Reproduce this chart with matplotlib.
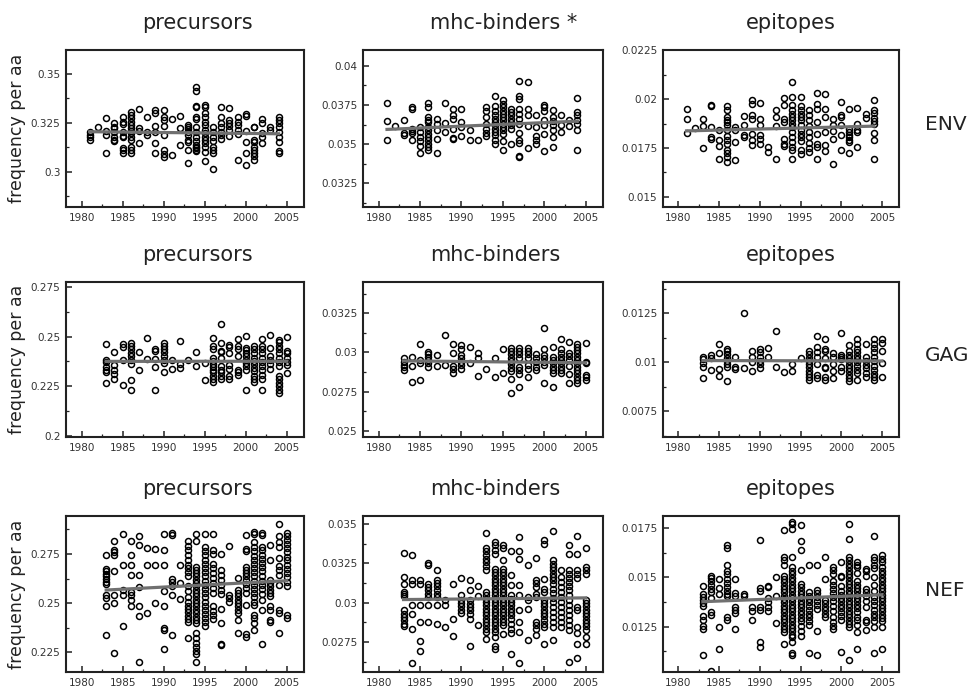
import matplotlib
matplotlib.use("Agg")
import matplotlib.pyplot as plt
import numpy as np
from matplotlib.ticker import MultipleLocator, FuncFormatter

# values, grouped by year
env_prec = {
    1981: [0.3201, 0.3188, 0.3176, 0.3162],
    1982: [0.323],
    1983: [0.3272, 0.3209, 0.3187, 0.3095],
    1984: [0.3247, 0.323, 0.3221, 0.3204, 0.3179, 0.3162, 0.3154],
    1985: [0.3277, 0.3255, 0.3243, 0.3204, 0.3182, 0.3179, 0.312, 0.3108, 0.3095],
    1986: [0.3306, 0.3289, 0.3272, 0.3255, 0.3238, 0.3221, 0.3209, 0.3196, 0.3179, 0.3162, 0.3128, 0.3111, 0.3095],
    1987: [0.3319, 0.3221, 0.3209, 0.3145],
    1988: [0.3277, 0.3204, 0.3187],
    1989: [0.3314, 0.3297, 0.3233, 0.3204, 0.3145, 0.3095],
    1990: [0.3314, 0.328, 0.3264, 0.3233, 0.3187, 0.3111, 0.3091, 0.3074],
    1991: [0.3269, 0.3086],
    1992: [0.3284, 0.3221, 0.3137],
    1993: [0.3238, 0.323, 0.3216, 0.3204, 0.3187, 0.3162, 0.3149, 0.3111, 0.3044],
    1994: [0.3429, 0.3412, 0.3335, 0.3328, 0.3277, 0.3267, 0.323, 0.3204, 0.3179, 0.3154, 0.3137, 0.3128, 0.312, 0.3111, 0.3103],
    1995: [0.334, 0.3331, 0.3301, 0.328, 0.3255, 0.3238, 0.3213, 0.3196, 0.3179, 0.3162, 0.3145, 0.3128, 0.3098, 0.3052],
    1996: [0.323, 0.3204, 0.3179, 0.3154, 0.3128, 0.3108, 0.3095, 0.3013],
    1997: [0.3328, 0.3277, 0.3247, 0.323, 0.3204, 0.3187, 0.3166],
    1998: [0.3323, 0.3264, 0.325, 0.3233, 0.3213, 0.3182],
    1999: [0.3277, 0.3255, 0.3238, 0.3213, 0.3193, 0.3061],
    2000: [0.3294, 0.3285, 0.3209, 0.3149, 0.3095, 0.3032],
    2001: [0.323, 0.3226, 0.3162, 0.3149, 0.3128, 0.3111, 0.3095, 0.3078, 0.3061],
    2002: [0.3267, 0.325, 0.3196, 0.3176, 0.3145],
    2003: [0.323, 0.3213],
    2004: [0.328, 0.3264, 0.3247, 0.323, 0.3204, 0.3179, 0.3149, 0.3103, 0.3095],
}

env_mhc = {
    1981: [0.03763, 0.03647, 0.03525],
    1982: [0.03613],
    1983: [0.03651, 0.03571, 0.03557],
    1984: [0.03735, 0.03725, 0.03599, 0.03584, 0.03571, 0.03525],
    1985: [0.03609, 0.03578, 0.03546, 0.03521, 0.03487, 0.03441],
    1986: [0.0376, 0.03735, 0.03672, 0.03655, 0.03639, 0.03609, 0.03588, 0.03567, 0.03546, 0.03525, 0.03504, 0.03483, 0.03466],
    1987: [0.03662, 0.0363, 0.03592, 0.03536, 0.03441],
    1988: [0.03763, 0.03634, 0.03578],
    1989: [0.03725, 0.03683, 0.03662, 0.03599, 0.03542, 0.03534],
    1990: [0.03725, 0.03641, 0.03609, 0.0355],
    1991: [0.03592, 0.03525],
    1992: [0.03525],
    1993: [0.03735, 0.03714, 0.03672, 0.0363, 0.03599, 0.03571, 0.0355],
    1994: [0.03809, 0.03746, 0.03714, 0.03683, 0.03662, 0.03641, 0.0362, 0.03599, 0.03578, 0.03557, 0.03529, 0.035],
    1995: [0.03781, 0.03758, 0.03735, 0.03714, 0.03693, 0.03672, 0.03651, 0.0363, 0.03609, 0.03588, 0.03567, 0.03521, 0.03462],
    1996: [0.03725, 0.03704, 0.03683, 0.03662, 0.03641, 0.0362, 0.03599, 0.035],
    1997: [0.03903, 0.03809, 0.03788, 0.03725, 0.03693, 0.03662, 0.0363, 0.03571, 0.03529, 0.03508, 0.03424, 0.03416],
    1998: [0.03893, 0.03725, 0.03683, 0.03613, 0.03473],
    1999: [0.03683, 0.03609, 0.0355, 0.03529, 0.035],
    2000: [0.03752, 0.03735, 0.03714, 0.03651, 0.0362, 0.03567, 0.03458],
    2001: [0.03718, 0.03672, 0.03647, 0.0362, 0.03588, 0.03546, 0.03483],
    2002: [0.03683, 0.0362, 0.03578],
    2003: [0.03651, 0.03613],
    2004: [0.03792, 0.03704, 0.03683, 0.03651, 0.0363, 0.03592, 0.03466],
}

env_epi = {
    1981: [0.0195, 0.019, 0.01827],
    1982: [0.01852],
    1983: [0.01897, 0.01861, 0.01752],
    1984: [0.01972, 0.01963, 0.01857, 0.01806, 0.01798],
    1985: [0.0184, 0.01793, 0.01759, 0.01695],
    1986: [0.01963, 0.01943, 0.01909, 0.01895, 0.01883, 0.01866, 0.0184, 0.0181, 0.01793, 0.01772, 0.01738, 0.01724, 0.01704, 0.01678],
    1987: [0.01857, 0.01844, 0.01781, 0.0169],
    1988: [0.01912, 0.01866, 0.01815, 0.01806],
    1989: [0.01994, 0.01977, 0.01917, 0.019, 0.01823, 0.01793, 0.01764],
    1990: [0.0198, 0.019, 0.01866, 0.01815, 0.01798, 0.01769],
    1991: [0.01755, 0.0173],
    1992: [0.01943, 0.01909, 0.01861, 0.01695],
    1993: [0.02006, 0.01968, 0.019, 0.01883, 0.01798, 0.01772, 0.0176],
    1994: [0.02088, 0.02011, 0.01968, 0.01943, 0.01926, 0.01909, 0.01892, 0.01875, 0.01857, 0.01832, 0.01806, 0.01781, 0.01755, 0.01738, 0.01695],
    1995: [0.02011, 0.01963, 0.01943, 0.01926, 0.01909, 0.01892, 0.01866, 0.0184, 0.01823, 0.01806, 0.01786, 0.01741, 0.01721],
    1996: [0.01943, 0.01917, 0.01892, 0.01861, 0.01832, 0.01806, 0.01776, 0.01747, 0.0173],
    1997: [0.02031, 0.01973, 0.0195, 0.01883, 0.01823, 0.01772, 0.01755, 0.01695],
    1998: [0.02028, 0.0195, 0.01909, 0.01832, 0.01764, 0.01735],
    1999: [0.019, 0.01866, 0.01835, 0.01798, 0.0167],
    2000: [0.01985, 0.01917, 0.01909, 0.01866, 0.01815, 0.01738],
    2001: [0.0195, 0.01849, 0.01832, 0.01815, 0.01806, 0.01793, 0.01781, 0.01724],
    2002: [0.01956, 0.01875, 0.0184, 0.01832, 0.01755],
    2003: [0.01922, 0.01905],
    2004: [0.01994, 0.01946, 0.01929, 0.01905, 0.01888, 0.01871, 0.01827, 0.01793, 0.01695],
}

gag_prec = {
    1983: [0.2461, 0.2385, 0.2372, 0.2348, 0.2331, 0.2321, 0.2267],
    1984: [0.2422, 0.2355, 0.2334, 0.2314, 0.2287],
    1985: [0.2461, 0.2449, 0.2385, 0.2258],
    1986: [0.247, 0.2453, 0.2436, 0.2419, 0.2402, 0.2382, 0.236, 0.228, 0.223],
    1987: [0.2422, 0.2334],
    1988: [0.2495, 0.2388],
    1989: [0.2436, 0.2427, 0.2388, 0.2348, 0.223],
    1990: [0.2466, 0.2453, 0.2439, 0.2422, 0.2402, 0.2382, 0.2365, 0.2321],
    1991: [0.2385, 0.2338],
    1992: [0.2478, 0.236, 0.2343],
    1993: [0.2385],
    1994: [0.2422, 0.2351],
    1995: [0.2368, 0.228],
    1996: [0.2495, 0.2453, 0.2439, 0.2394, 0.2377, 0.236, 0.2348, 0.2334, 0.2321, 0.2304, 0.2287, 0.227],
    1997: [0.2563, 0.247, 0.2427, 0.2422, 0.2394, 0.2351, 0.2334, 0.2321, 0.2304, 0.2287],
    1998: [0.2456, 0.2449, 0.2416, 0.2355, 0.2338, 0.2301, 0.2284],
    1999: [0.249, 0.2453, 0.2436, 0.2405, 0.2334, 0.2321, 0.2309],
    2000: [0.2503, 0.2444, 0.2432, 0.2419, 0.2402, 0.2385, 0.2368, 0.2351, 0.2331, 0.223],
    2001: [0.2453, 0.2436, 0.2416, 0.2394, 0.2377, 0.236, 0.2343, 0.2326, 0.2304, 0.2287, 0.227],
    2002: [0.249, 0.2453, 0.2436, 0.2416, 0.2394, 0.2372, 0.2351, 0.2331, 0.2309, 0.2287, 0.223],
    2003: [0.2507, 0.2444, 0.2405, 0.2382, 0.236, 0.2338],
    2004: [0.2486, 0.2473, 0.2453, 0.2436, 0.2416, 0.2394, 0.2372, 0.2351, 0.2304, 0.2284, 0.2267, 0.225, 0.2233, 0.2216],
    2005: [0.25, 0.2427, 0.2416, 0.2394, 0.2372, 0.2355, 0.2318],
}

gag_mhc = {
    1983: [0.02962, 0.02941, 0.02919, 0.02905, 0.02888],
    1984: [0.02968, 0.02913, 0.02813],
    1985: [0.03051, 0.02951, 0.0293, 0.02824],
    1986: [0.03004, 0.02989, 0.02972, 0.02951, 0.0293, 0.02909],
    1987: [0.02983, 0.02913],
    1988: [0.03114, 0.02919],
    1989: [0.03057, 0.02998, 0.02913, 0.02892, 0.02866],
    1990: [0.03047, 0.03019, 0.02983, 0.02962, 0.02941, 0.02919, 0.02892],
    1991: [0.03036, 0.0293],
    1992: [0.02998, 0.02962, 0.0285],
    1993: [0.02892],
    1994: [0.02962, 0.02841],
    1995: [0.03025, 0.02866],
    1996: [0.0303, 0.03008, 0.02987, 0.02966, 0.02945, 0.02924, 0.02902, 0.02881, 0.02828, 0.02739],
    1997: [0.0303, 0.03008, 0.02987, 0.02966, 0.02909, 0.02888, 0.02862, 0.02782],
    1998: [0.0303, 0.03008, 0.02987, 0.02962, 0.02919, 0.02892, 0.02845],
    1999: [0.02987, 0.02966, 0.02941, 0.02909, 0.02888],
    2000: [0.03159, 0.03019, 0.02983, 0.02962, 0.02941, 0.02919, 0.02803],
    2001: [0.03036, 0.02972, 0.02951, 0.0293, 0.02909, 0.02888, 0.02866, 0.02782],
    2002: [0.03089, 0.03025, 0.02994, 0.02972, 0.02951, 0.0293, 0.02909, 0.02888, 0.02866],
    2003: [0.03068, 0.02998, 0.02977, 0.02951, 0.02913, 0.02862, 0.02803],
    2004: [0.03057, 0.03036, 0.03015, 0.02994, 0.02972, 0.02951, 0.0293, 0.02909, 0.02888, 0.02866, 0.02845, 0.02824, 0.02803],
    2005: [0.03061, 0.02941, 0.0293, 0.02856, 0.02841, 0.02824],
}

gag_epi = {
    1983: [0.01029, 0.01017, 0.00995, 0.00978, 0.00921],
    1984: [0.01039, 0.01025, 0.00961],
    1985: [0.01093, 0.01046, 0.00966, 0.00929],
    1986: [0.01068, 0.01056, 0.01042, 0.01025, 0.01005, 0.00992, 0.00978, 0.00904],
    1987: [0.01029, 0.00975, 0.00966],
    1988: [0.0125, 0.00971],
    1989: [0.01059, 0.01029, 0.01, 0.00954],
    1990: [0.01068, 0.01051, 0.01029, 0.01008, 0.00992, 0.00971],
    1991: [0.01076, 0.01029],
    1992: [0.01161, 0.00978],
    1993: [0.00949],
    1994: [0.00992, 0.00954],
    1995: [0.01025],
    1996: [0.01056, 0.01042, 0.01025, 0.01008, 0.00992, 0.00975, 0.00958, 0.00941, 0.00924, 0.0091],
    1997: [0.01135, 0.01079, 0.01051, 0.01029, 0.00992, 0.00937, 0.00921],
    1998: [0.01118, 0.01068, 0.01056, 0.01025, 0.00978, 0.00971, 0.00927, 0.0091],
    1999: [0.01046, 0.01029, 0.00992, 0.00958, 0.00921],
    2000: [0.01152, 0.01039, 0.01029, 0.01017, 0.00975, 0.00954],
    2001: [0.0109, 0.01056, 0.01039, 0.01022, 0.01005, 0.00988, 0.00971, 0.00954, 0.00937, 0.00921, 0.00904],
    2002: [0.01118, 0.01096, 0.01068, 0.01051, 0.01034, 0.01017, 0.01, 0.00983, 0.00961, 0.00944, 0.0091],
    2003: [0.01093, 0.01029, 0.01008, 0.00988, 0.00971, 0.00944, 0.00924],
    2004: [0.01118, 0.01093, 0.01073, 0.01051, 0.01029, 0.01005, 0.00983, 0.00961, 0.00941, 0.00924, 0.0091],
    2005: [0.01118, 0.01101, 0.01056, 0.00995, 0.00924],
}

nef_prec = {
    1983: [0.2746, 0.2673, 0.2661, 0.2649, 0.2636, 0.2622, 0.261, 0.2598, 0.2542, 0.2525, 0.2488, 0.2339],
    1984: [0.2814, 0.2771, 0.2758, 0.2746, 0.2661, 0.2542, 0.25, 0.2246],
    1985: [0.2853, 0.2695, 0.2568, 0.2542, 0.2385],
    1986: [0.2814, 0.2746, 0.2695, 0.2644, 0.2559, 0.2542, 0.2517, 0.2488],
    1987: [0.2842, 0.2797, 0.2644, 0.2581, 0.2488, 0.2436, 0.2203],
    1988: [0.278, 0.2695, 0.2449],
    1989: [0.2775, 0.2695, 0.2503],
    1990: [0.2853, 0.2771, 0.2695, 0.2564, 0.2488, 0.2373, 0.2361, 0.2266],
    1991: [0.2859, 0.2847, 0.2622, 0.2605, 0.2588, 0.2542, 0.2339],
    1992: [0.2695, 0.2602, 0.252],
    1993: [0.2814, 0.2792, 0.2771, 0.2746, 0.272, 0.2695, 0.2678, 0.2656, 0.2639, 0.2588, 0.2564, 0.2531,
           0.2508, 0.2486, 0.2469, 0.2453, 0.2436, 0.2419, 0.2402, 0.2322],
    1994: [0.2853, 0.2814, 0.2686, 0.2669, 0.2653, 0.2636, 0.2619, 0.2602, 0.2585, 0.2568, 0.2551, 0.2534,
           0.2517, 0.25, 0.2483, 0.2466, 0.2449, 0.2432, 0.2415, 0.2398, 0.2347, 0.2322, 0.2297, 0.2276,
           0.2259, 0.2242, 0.2203],
    1995: [0.2853, 0.2785, 0.2763, 0.2746, 0.272, 0.27, 0.2678, 0.2656, 0.2636, 0.2615, 0.2593, 0.2571,
           0.2551, 0.2531, 0.2508, 0.2486, 0.2466, 0.2446, 0.2424, 0.2402, 0.2385],
    1996: [0.2853, 0.2771, 0.2751, 0.27, 0.2678, 0.2653, 0.2627, 0.2602, 0.2576, 0.2551, 0.2483, 0.2458,
           0.2441, 0.2419],
    1997: [0.2751, 0.2669, 0.2644, 0.2619, 0.2593, 0.2568, 0.2547, 0.2469, 0.2398, 0.2293, 0.2288],
    1998: [0.2792, 0.2542, 0.2525, 0.2508],
    1999: [0.2627, 0.2568, 0.2551, 0.2534, 0.2517, 0.25, 0.2483, 0.2466, 0.2449, 0.2412, 0.2347],
    2000: [0.2847, 0.2775, 0.2763, 0.2686, 0.2669, 0.2653, 0.2636, 0.2619, 0.2598, 0.2576, 0.2554, 0.2492,
           0.2344, 0.233],
    2001: [0.2864, 0.2853, 0.2809, 0.2785, 0.2763, 0.2741, 0.272, 0.27, 0.2678, 0.2656, 0.2636, 0.2615,
           0.2593, 0.2571, 0.2551, 0.2531, 0.2508, 0.2492, 0.2441, 0.2424, 0.2398, 0.2364],
    2002: [0.2856, 0.2847, 0.2785, 0.2768, 0.2746, 0.2724, 0.2703, 0.2683, 0.2661, 0.2636, 0.2615, 0.2593,
           0.2571, 0.2547, 0.2517, 0.2466, 0.2293],
    2003: [0.2797, 0.272, 0.2619, 0.2602, 0.2585, 0.2568, 0.2551, 0.2534, 0.2483, 0.2466, 0.2415, 0.2402],
    2004: [0.2903, 0.2839, 0.2809, 0.2785, 0.2732, 0.269, 0.2669, 0.2644, 0.2593, 0.2466, 0.2449, 0.2347],
    2005: [0.2856, 0.2839, 0.2822, 0.2802, 0.278, 0.2758, 0.2737, 0.2717, 0.2695, 0.2673, 0.2653, 0.2632,
           0.261, 0.2588, 0.2441, 0.2424],
}

nef_mhc = {
    1983: [0.03317, 0.03162, 0.0312, 0.03068, 0.03053, 0.0304, 0.02951, 0.0293, 0.02909, 0.02888, 0.02867, 0.0285],
    1984: [0.03304, 0.03146, 0.03116, 0.02983, 0.02926, 0.02835, 0.02614],
    1985: [0.03146, 0.03116, 0.02983, 0.02878, 0.02757, 0.02694],
    1986: [0.03251, 0.03238, 0.0312, 0.03099, 0.03078, 0.03057, 0.03036, 0.02983, 0.02878],
    1987: [0.03205, 0.03146, 0.03124, 0.03103, 0.03078, 0.03057, 0.03036, 0.02983, 0.02867],
    1988: [0.03015, 0.02983, 0.02846],
    1989: [0.0312, 0.02899, 0.02787],
    1990: [0.03158, 0.03046, 0.03019, 0.02998, 0.02977, 0.02956, 0.02935],
    1991: [0.03146, 0.03078, 0.03015, 0.02994, 0.02973, 0.02951, 0.02926, 0.02899, 0.02724],
    1992: [0.03103, 0.0304, 0.02857],
    1993: [0.03441, 0.03348, 0.03327, 0.03304, 0.03279, 0.03257, 0.0323, 0.03205, 0.03068, 0.03046, 0.03025,
           0.03004, 0.02983, 0.02962, 0.02941, 0.0292, 0.02899, 0.02878, 0.02857, 0.02835, 0.02814, 0.02772],
    1994: [0.03384, 0.03363, 0.03335, 0.0331, 0.03215, 0.03194, 0.03173, 0.03152, 0.03131, 0.0311, 0.03089,
           0.03068, 0.03046, 0.03025, 0.03004, 0.02983, 0.02962, 0.02941, 0.0292, 0.02899, 0.02878, 0.02857,
           0.02835, 0.02814, 0.02783, 0.02724, 0.02709],
    1995: [0.03363, 0.03348, 0.03272, 0.03215, 0.03194, 0.03173, 0.03152, 0.03131, 0.0311, 0.03089, 0.03068,
           0.03046, 0.03025, 0.03004, 0.02983, 0.02962, 0.02941, 0.0292, 0.02899, 0.02878, 0.02857, 0.02804],
    1996: [0.03327, 0.03173, 0.0311, 0.03046, 0.03025, 0.03004, 0.02983, 0.02962, 0.02941, 0.0292, 0.02899,
           0.02867, 0.02835, 0.02808, 0.02673],
    1997: [0.03416, 0.03327, 0.03279, 0.0311, 0.03046, 0.02951, 0.02878, 0.02814, 0.02618],
    1998: [0.03236, 0.03036, 0.03015, 0.02962, 0.02762],
    1999: [0.03285, 0.03146, 0.03124, 0.03099, 0.03057, 0.03036, 0.02878, 0.02857, 0.02835, 0.02793],
    2000: [0.03395, 0.03373, 0.03152, 0.03089, 0.03068, 0.03019, 0.02998, 0.02977, 0.02956, 0.02935, 0.02913,
           0.02892, 0.02867, 0.02846, 0.02736],
    2001: [0.03454, 0.03272, 0.03247, 0.03226, 0.03205, 0.03184, 0.03162, 0.03141, 0.03116, 0.03089, 0.03061,
           0.03032, 0.03004, 0.02973, 0.02941, 0.02909, 0.02878, 0.02846, 0.02762],
    2002: [0.03209, 0.03162, 0.03131, 0.03099, 0.03068, 0.03036, 0.03004, 0.02973, 0.02941, 0.02909, 0.02878, 0.02846],
    2003: [0.03363, 0.03306, 0.03209, 0.03184, 0.03158, 0.03131, 0.03103, 0.03078, 0.03046, 0.03015, 0.02983,
           0.02951, 0.0292, 0.02888, 0.02857, 0.02829, 0.02624],
    2004: [0.0342, 0.03306, 0.03209, 0.03184, 0.03158, 0.02973, 0.02956, 0.02846, 0.02808, 0.0274, 0.0265],
    2005: [0.03348, 0.03226, 0.03205, 0.03184, 0.03019, 0.02998, 0.02977, 0.02956, 0.02935, 0.02913, 0.02892,
           0.02871, 0.0285, 0.02829, 0.02783, 0.0274],
}

nef_epi = {
    1983: [0.01458, 0.01416, 0.01402, 0.01385, 0.01368, 0.01356, 0.01306, 0.01284, 0.01255, 0.01238, 0.01108],
    1984: [0.01508, 0.01497, 0.0148, 0.01463, 0.01441, 0.01424, 0.01395, 0.01323, 0.01311, 0.01027],
    1985: [0.01492, 0.01446, 0.01416, 0.0125, 0.01137],
    1986: [0.01661, 0.01649, 0.01564, 0.01534, 0.01514, 0.01492, 0.0147, 0.01449, 0.01429, 0.01416, 0.01407,
           0.01297, 0.01284],
    1987: [0.01492, 0.01419, 0.01407, 0.01348, 0.01334, 0.01317, 0.01238],
    1988: [0.01416, 0.01407],
    1989: [0.01348, 0.01328, 0.01284],
    1990: [0.01686, 0.01446, 0.01432, 0.01351, 0.01334, 0.0117, 0.01145],
    1991: [0.01458, 0.01449, 0.01395, 0.01373, 0.01348, 0.01328],
    1992: [0.015, 0.01407, 0.01267],
    1993: [0.0174, 0.01601, 0.01585, 0.01564, 0.01508, 0.01492, 0.01475, 0.01458, 0.01441, 0.01424, 0.01407,
           0.0139, 0.01373, 0.01356, 0.01339, 0.01323, 0.01306, 0.01289, 0.01272, 0.01255, 0.01238, 0.01221, 0.01162],
    1994: [0.01779, 0.01767, 0.01745, 0.01601, 0.01551, 0.01534, 0.01517, 0.01497, 0.0148, 0.01463, 0.01446,
           0.01429, 0.01412, 0.01395, 0.01378, 0.01361, 0.01345, 0.01328, 0.01311, 0.01294, 0.01277, 0.0126,
           0.01243, 0.01226, 0.01209, 0.01196, 0.0117, 0.01115, 0.01108],
    1995: [0.01762, 0.01683, 0.01639, 0.01537, 0.01466, 0.01449, 0.01432, 0.01416, 0.01399, 0.01382, 0.01365,
           0.01348, 0.01331, 0.01314, 0.01294, 0.01277, 0.01255, 0.0123, 0.01204],
    1996: [0.01564, 0.01424, 0.01407, 0.0139, 0.01373, 0.01356, 0.01334, 0.01314, 0.01297, 0.0128, 0.0126, 0.01115],
    1997: [0.01564, 0.01436, 0.01419, 0.01402, 0.01382, 0.01361, 0.01339, 0.0123, 0.01108],
    1998: [0.01601, 0.01492, 0.01385, 0.01368, 0.01351, 0.01334, 0.01314, 0.01297],
    1999: [0.01554, 0.01537, 0.01517, 0.01483, 0.01463, 0.01441, 0.01419, 0.01399, 0.01378, 0.01356, 0.01328,
           0.01297, 0.01272, 0.01255, 0.01238],
    2000: [0.01576, 0.01508, 0.015, 0.01453, 0.01432, 0.01412, 0.01395, 0.01378, 0.01361, 0.01345, 0.01323,
           0.01306, 0.01284, 0.0112],
    2001: [0.01767, 0.01694, 0.01601, 0.01585, 0.01568, 0.01551, 0.01534, 0.01517, 0.015, 0.01483, 0.01466,
           0.01449, 0.01432, 0.01416, 0.01399, 0.01382, 0.01365, 0.01348, 0.01331, 0.01314, 0.01297, 0.0128,
           0.01263, 0.01247, 0.01081],
    2002: [0.01576, 0.01564, 0.01551, 0.0152, 0.01483, 0.01463, 0.01446, 0.01429, 0.01412, 0.01395, 0.01378,
           0.01361, 0.01345, 0.01323, 0.01301, 0.01284, 0.0126, 0.01221, 0.01137],
    2003: [0.01542, 0.0153, 0.01508, 0.01441, 0.01424, 0.01407, 0.01382, 0.01348, 0.01284, 0.01272, 0.01233],
    2004: [0.01711, 0.01601, 0.01588, 0.01564, 0.01547, 0.015, 0.01463, 0.01432, 0.01399, 0.01382, 0.01361,
           0.01334, 0.01314, 0.01297, 0.0128, 0.0125, 0.01115],
    2005: [0.0161, 0.01593, 0.01576, 0.01554, 0.01534, 0.01514, 0.01497, 0.0148, 0.01463, 0.01446, 0.01429,
           0.01412, 0.01395, 0.01378, 0.01361, 0.01345, 0.01328, 0.01311, 0.01294, 0.01277, 0.0125, 0.01137],
}

panels = [[env_prec, env_mhc, env_epi],
          [gag_prec, gag_mhc, gag_epi],
          [nef_prec, nef_mhc, nef_epi]]
titles = [["precursors", "mhc-binders *", "epitopes"],
          ["precursors", "mhc-binders", "epitopes"],
          ["precursors", "mhc-binders", "epitopes"]]
row_labels = ["ENV", "GAG", "NEF"]
ylims = [[(0.282, 0.362), (0.031, 0.041), (0.01447, 0.02252)],
         [(0.1993, 0.2777), (0.0246, 0.0345), (0.0062, 0.0141)],
         [(0.215, 0.2943), (0.0256, 0.0355), (0.0102, 0.0181)]]
ysteps = [[0.025, 0.0025, 0.0025],
          [0.025, 0.0025, 0.0025],
          [0.025, 0.0025, 0.0025]]

W, H = 972, 688
fig = plt.figure(figsize=(W / 100, H / 100), dpi=100)

col_x = [(66, 304), (363, 603), (663, 899)]
row_y = [(50, 207), (282, 437), (516, 672)]
title_x = [142, 430, 746]
edge = "#222222"

fmt = FuncFormatter(lambda v, p: f"{round(v, 6):g}")

for r in range(3):
    for c in range(3):
        x0, x1 = col_x[c]
        y0, y1 = row_y[r]
        ax = fig.add_axes([x0 / W, 1 - y1 / H, (x1 - x0) / W, (y1 - y0) / H])
        data = panels[r][c]
        xs = np.concatenate([[yr] * len(v) for yr, v in data.items()])
        ys = np.concatenate([v for v in data.values()])
        ax.plot(xs, ys, "o", mfc="none", mec="black", ms=4.3, mew=1.1, zorder=2)
        k, b = np.polyfit(xs, ys, 1)
        xl = np.array([xs.min(), xs.max()])
        ax.plot(xl, k * xl + b, color="#707070", lw=2.3, zorder=3)

        ax.set_xlim(1978.1, 2007.1)
        ax.set_ylim(*ylims[r][c])
        ax.xaxis.set_major_locator(MultipleLocator(5))
        ax.xaxis.set_minor_locator(MultipleLocator(2.5))
        ax.yaxis.set_major_locator(MultipleLocator(ysteps[r][c]))
        ax.yaxis.set_minor_locator(MultipleLocator(ysteps[r][c] / 2))
        ax.yaxis.set_major_formatter(fmt)
        ax.tick_params(which="both", direction="in", top=False, right=False,
                       color=edge, labelsize=7.5, labelcolor="#333333")
        ax.tick_params(which="major", length=4.5, width=1.1, pad=4)
        ax.tick_params(which="minor", length=2.5, width=0.9)
        for s in ax.spines.values():
            s.set_linewidth(1.5)
            s.set_color(edge)

        fig.text(title_x[c] / W, 1 - (y0 - 27) / H, titles[r][c],
                 ha="left", va="center", fontsize=15, color="#222222")

    yc = (row_y[r][0] + row_y[r][1]) / 2
    fig.text(17 / W, 1 - yc / H, "frequency per aa", rotation=90,
             ha="center", va="center", fontsize=12.5, color="#222222")
    fig.text(925 / W, 1 - (yc - 4) / H, row_labels[r], ha="left", va="center",
             fontsize=14.5, color="#222222")

fig.savefig("out.png", dpi=100, facecolor="white")
